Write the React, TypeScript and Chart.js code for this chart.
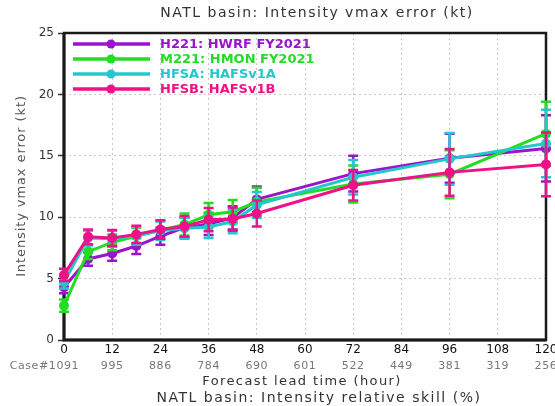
import React, { useEffect, useRef } from "react";
import { Chart, registerables } from "chart.js";
Chart.register(...registerables);

const hours = [0, 6, 12, 18, 24, 30, 36, 42, 48, 72, 96, 120];
const caseTicks = [0, 12, 24, 36, 48, 60, 72, 84, 96, 108, 120];
const caseCounts = ["1091", "995", "886", "784", "690", "601", "522", "449", "381", "319", "256"];

const labels = ["H221: HWRF FY2021", "M221: HMON FY2021", "HFSA: HAFSv1A", "HFSB: HAFSv1B"];
const colors = ["#9a14cc", "#22dd22", "#22c8cc", "#ee1188"];

const h221 = [4.3, 6.6, 7.05, 7.65, 8.45, 9.15, 9.45, 9.95, 11.45, 13.55, 14.8, 15.6];
const m221 = [2.8, 7.2, 7.95, 8.45, 8.95, 9.4, 10.2, 10.45, 11.25, 12.7, 13.5, 16.8];
const hfsa = [4.7, 8.3, 8.25, 8.5, 8.9, 9.1, 9.2, 9.65, 11.0, 13.25, 14.75, 16.0];
const hfsb = [5.3, 8.4, 8.3, 8.6, 9.0, 9.25, 9.8, 9.85, 10.3, 12.6, 13.65, 14.3];

const h221Err = [0.5, 0.55, 0.6, 0.65, 0.7, 0.8, 0.9, 0.95, 1.05, 1.45, 2.0, 2.7];
const m221Err = [0.5, 0.6, 0.65, 0.7, 0.75, 0.9, 0.95, 0.95, 1.15, 1.5, 1.95, 2.6];
const hfsaErr = [0.5, 0.6, 0.65, 0.7, 0.75, 0.85, 0.9, 0.95, 1.05, 1.4, 2.1, 2.75];
const hfsbErr = [0.5, 0.6, 0.65, 0.7, 0.75, 0.85, 0.95, 0.95, 1.05, 1.25, 1.9, 2.6];

const series = [h221, m221, hfsa, hfsb];
const errors = [h221Err, m221Err, hfsaErr, hfsbErr];

const titleText = "NATL basin: Intensity vmax error (kt)";
const yTitle = "Intensity vmax error (kt)";
const xTitle = "Forecast lead time (hour)";
const nextTitle = "NATL basin: Intensity relative skill (%)";

const FONT = "'DejaVu Sans', sans-serif";

const decorPlugin = {
  id: "decor",
  beforeDatasetsDraw(chart: any) {
    const { ctx, chartArea } = chart;
    ctx.save();
    ctx.strokeStyle = "#1a1a1a";
    ctx.lineWidth = 2.5;
    ctx.strokeRect(chartArea.left, chartArea.top, chartArea.right - chartArea.left, chartArea.bottom - chartArea.top);
    ctx.lineWidth = 3;
    ctx.beginPath();
    ctx.moveTo(chartArea.left, chartArea.top);
    ctx.lineTo(chartArea.left, chartArea.bottom);
    ctx.lineTo(chartArea.right, chartArea.bottom);
    ctx.stroke();
    ctx.restore();
  },
  afterDatasetDraw(chart: any, args: any) {
    const { ctx } = chart;
    const i = args.index;
    const err = errors[i];
    const vals = series[i];
    const y = chart.scales.y;
    const meta = args.meta;
    ctx.save();
    ctx.strokeStyle = colors[i];
    ctx.lineWidth = 2.5;
    meta.data.forEach((pt: any, k: number) => {
      const x = pt.x;
      const y1 = y.getPixelForValue(vals[k] + err[k]);
      const y2 = y.getPixelForValue(vals[k] - err[k]);
      ctx.beginPath();
      ctx.moveTo(x, y1);
      ctx.lineTo(x, y2);
      ctx.moveTo(x - 5, y1);
      ctx.lineTo(x + 5, y1);
      ctx.moveTo(x - 5, y2);
      ctx.lineTo(x + 5, y2);
      ctx.stroke();
    });
    ctx.restore();
  },
  afterDraw(chart: any) {
    const { ctx } = chart;
    const xs = chart.scales.x;
    ctx.save();
    // title
    ctx.fillStyle = "#333";
    ctx.font = `14px ${FONT}`;
    ctx.textAlign = "center";
    ctx.textBaseline = "middle";
    (ctx as any).letterSpacing = "1.5px";
    ctx.fillText(titleText, 317, 13);
    // y title
    ctx.save();
    ctx.translate(22, 186);
    ctx.rotate(-Math.PI / 2);
    ctx.fillStyle = "#555";
    ctx.font = `13px ${FONT}`;
    (ctx as any).letterSpacing = "0.9px";
    ctx.fillText(yTitle, 0, 0);
    ctx.restore();
    // case counts
    (ctx as any).letterSpacing = "0.6px";
    ctx.font = `11px ${FONT}`;
    ctx.fillStyle = "#777";
    caseTicks.forEach((t, k) => {
      const px = xs.getPixelForValue(t);
      ctx.textAlign = "center";
      ctx.fillText(caseCounts[k], px, 366);
      if (k === 0) {
        const w = ctx.measureText(caseCounts[k]).width;
        ctx.textAlign = "right";
        ctx.fillText("Case#", px - w / 2, 366);
      }
    });
    // x title
    ctx.textAlign = "center";
    ctx.fillStyle = "#333";
    ctx.font = `13px ${FONT}`;
    (ctx as any).letterSpacing = "1.4px";
    ctx.fillText(xTitle, 302, 382);
    ctx.font = `14px ${FONT}`;
    (ctx as any).letterSpacing = "1.5px";
    ctx.fillText(nextTitle, 319, 398);
    // legend
    (ctx as any).letterSpacing = "0px";
    labels.forEach((lab, k) => {
      const ly = 44 + k * 15;
      ctx.strokeStyle = colors[k];
      ctx.lineWidth = 3.5;
      ctx.beginPath();
      ctx.moveTo(73, ly);
      ctx.lineTo(150, ly);
      ctx.stroke();
      ctx.fillStyle = colors[k];
      ctx.beginPath();
      ctx.arc(111, ly, 4.5, 0, Math.PI * 2);
      ctx.fill();
      ctx.font = `bold 13px ${FONT}`;
      ctx.textAlign = "left";
      ctx.fillText(lab, 160, ly + 1);
    });
    ctx.restore();
  },
};

export default function App() {
  const ref = useRef<HTMLCanvasElement>(null);
  useEffect(() => {
    const canvas = ref.current;
    if (!canvas) return;
    const chart = new Chart(canvas, {
      type: "line",
      data: {
        datasets: series.map((vals, i) => ({
          label: labels[i],
          data: hours.map((h, k) => ({ x: h, y: vals[k] })),
          borderColor: colors[i],
          backgroundColor: colors[i],
          borderWidth: 3,
          pointRadius: 5,
          pointBorderWidth: 0,
          pointBackgroundColor: colors[i],
          tension: 0,
          clip: false as any,
          order: 3 - i,
        })),
      },
      options: {
        responsive: false,
        animation: false,
        devicePixelRatio: 1,
        layout: { padding: { left: 0, top: 33, right: 580 - 546, bottom: 0 } },
        plugins: { legend: { display: false }, tooltip: { enabled: false }, title: { display: false } },
        scales: {
          x: {
            type: "linear",
            min: 0,
            max: 120,
            afterFit: (s: any) => { s.height = 66; },
            afterBuildTicks: (s: any) => { s.ticks = caseTicks.map((v) => ({ value: v })); },
            ticks: { color: "#111", font: { family: FONT, size: 12 }, padding: 3, maxRotation: 0, autoSkip: false },
            grid: { color: "#c8c8c8", lineWidth: 1, drawTicks: false },
            border: { display: false, dash: [2, 3] },
          },
          y: {
            min: 0,
            max: 25,
            afterFit: (s: any) => { s.width = 64; },
            ticks: { stepSize: 5, color: "#333", font: { family: FONT, size: 12 }, padding: 4 },
            grid: { color: "#c8c8c8", lineWidth: 1, tickLength: 6, tickColor: "#333", tickWidth: 1.5 },
            border: { display: false, dash: [2, 3] },
          },
        },
      },
      plugins: [decorPlugin],
    } as any);
    return () => chart.destroy();
  }, []);
  return (
    <div style={{ position: "fixed", left: 0, top: 0, width: 555, height: 406, overflow: "hidden", background: "#fff" }}>
      <canvas ref={ref} width={580} height={406} style={{ display: "block", width: 580, height: 406 }} />
    </div>
  );
}
